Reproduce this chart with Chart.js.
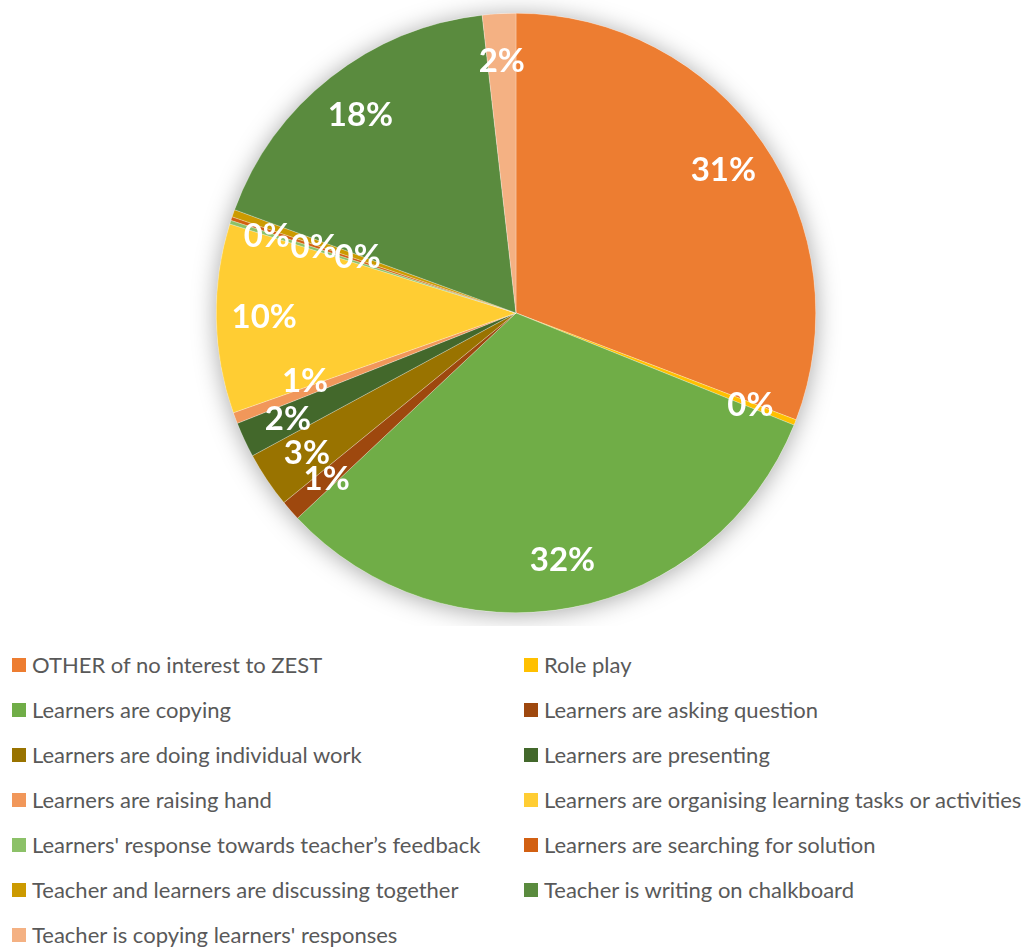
<!DOCTYPE html>
<html>
<head>
<meta charset="utf-8">
<script src="https://cdn.jsdelivr.net/npm/chart.js@4"></script>
<style>
    body { margin: 0; background: #fff; font-family: Lato, "Open Sans", sans-serif; }
    #wrap { position: relative; width: 1032px; height: 626px; }
    #legend {
        display: grid;
        grid-template-columns: 512px 508px;
        grid-auto-rows: 45px;
        padding-left: 12px;
        margin-top: 16px;
    }
    .item { display: flex; align-items: center; color: #595959; font-size: 22px; white-space: nowrap; }
    .box { width: 14px; height: 14px; margin-right: 6px; flex: none; }
</style>
</head>
<body>
<div id="wrap"><canvas id="myChart"></canvas></div>
<div id="legend"></div>
<script>
const categories = [
    'OTHER of no interest to ZEST',
    'Role play',
    'Learners are copying',
    'Learners are asking question',
    'Learners are doing individual work',
    'Learners are presenting',
    'Learners are raising hand',
    'Learners are organising learning tasks or activities',
    'Learners\' response towards teacher\u2019s feedback',
    'Learners are searching for solution',
    'Teacher and learners are discussing together',
    'Teacher is writing on chalkboard',
    'Teacher is copying learners\' responses',
];
const shares = [30.8, 0.3, 31.9, 1.1, 3.0, 1.9, 0.6, 10.2, 0.2, 0.2, 0.4, 17.6, 1.8];

const colors = [
    '#ED7D31',  // OTHER
    '#FFC000',  // Role play
    '#70AD47',  // copying
    '#9E480E',  // asking question
    '#997300',  // individual work
    '#43682B',  // presenting
    '#F1975A',  // raising hand
    '#FFCD33',  // organising
    '#8CC168',  // response
    '#D26012',  // searching
    '#CC9A00',  // discussing
    '#5A8B3E',  // writing on chalkboard
    '#F4B183',  // copying responses
];

// where the % label sits, as a fraction of the radius (Excel nudged the crowded ones)
const labelRadius = { 6: 0.74, 8: 0.87, 9: 0.71, 10: 0.56 };
// small angle nudges in degrees for the crowded labels
const labelTurn = { 6: 2.5, 8: -0.5, 9: -0.3 };

const pieShadow = {
    id: 'pieShadow',
    beforeDatasetsDraw(chart) {
        const arc = chart.getDatasetMeta(0).data[0];
        if (!arc) return;
        const ctx = chart.ctx;
        ctx.save();
        ctx.shadowColor = 'rgba(0,0,0,0.35)';
        ctx.shadowBlur = 24;
        ctx.shadowOffsetY = 2;
        ctx.fillStyle = '#fff';
        ctx.beginPath();
        ctx.arc(arc.x, arc.y, arc.outerRadius, 0, Math.PI * 2);
        ctx.fill();
        ctx.restore();
    }
};

const pctLabels = {
    id: 'pctLabels',
    afterDatasetsDraw(chart) {
        const ctx = chart.ctx;
        const data = chart.data.datasets[0].data;
        const total = data.reduce((a, b) => a + b, 0);
        ctx.save();
        ctx.fillStyle = '#fff';
        ctx.font = 'bold 33px Lato, sans-serif';
        ctx.textAlign = 'center';
        ctx.textBaseline = 'middle';
        chart.getDatasetMeta(0).data.forEach((arc, i) => {
            const p = arc.getProps(['x', 'y', 'startAngle', 'endAngle', 'outerRadius'], true);
            const mid = (p.startAngle + p.endAngle) / 2 + (labelTurn[i] || 0) * Math.PI / 180;
            const r = p.outerRadius * (labelRadius[i] ?? 0.84);
            const text = Math.round(data[i] / total * 100) + '%';
            ctx.fillText(text, p.x + Math.cos(mid) * r, p.y + Math.sin(mid) * r);
        });
        ctx.restore();
    }
};

const ctx = document.getElementById('myChart').getContext('2d');
new Chart(ctx, {
    type: 'pie',
    data: {
        labels: categories,
        datasets: [{
            data: shares,
            backgroundColor: colors,
            borderColor: 'rgba(255,255,255,0.5)',
            borderWidth: 0.5,
        }],
    },
    options: {
        responsive: true,
        maintainAspectRatio: false,
        animation: false,
        layout: { padding: { top: 13, bottom: 13 } },
        plugins: {
            legend: { display: false },
            tooltip: { enabled: false },
        },
    },
    plugins: [pieShadow, pctLabels],
});

// legend in two columns, row by row like the original
const legend = document.getElementById('legend');
categories.forEach((name, i) => {
    const item = document.createElement('div');
    item.className = 'item';
    item.innerHTML = `<span class="box" style="background:${colors[i]}"></span><span>${name}</span>`;
    legend.appendChild(item);
});
</script>
</body>
</html>
